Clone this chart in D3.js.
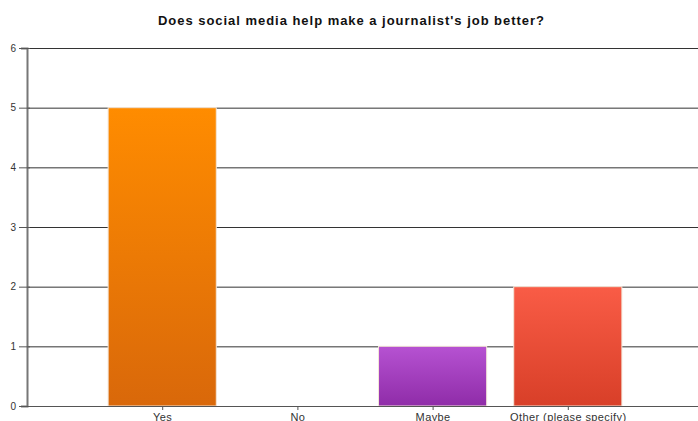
<!DOCTYPE html>
<html>
<head>
<meta charset="utf-8">
<script src="https://cdn.jsdelivr.net/npm/d3@7"></script>
<style>
  html, body { margin: 0; padding: 0; background: #fff; }
  svg { display: block; font-family: "Liberation Sans", Arial, sans-serif; }
</style>
</head>
<body>
<svg id="chart" width="698" height="421"></svg>
<script>
// Survey answers and response counts
const categories = ["Yes", "No", "Maybe", "Other (please specify)"];
const counts = [5, 0, 1, 2];
const yTicks = [0, 1, 2, 3, 4, 5, 6];
const barTop = ["#ff8c00", "#ff8c00", "#b652d2", "#f95c46"];
const barBottom = ["#d9680a", "#d9680a", "#8f2ca8", "#d83f28"];
const title = "Does social media help make a journalist's job better?";

const W = 698, H = 421;
const plotLeft = 27, plotTop = 48, plotBottom = 406;

const svg = d3.select("#chart");

const x = d3.scalePoint().domain(categories).range([plotLeft, 703]).padding(1);
const y = d3.scaleLinear().domain([0, 6]).range([plotBottom, plotTop]);
const barW = x.step() * 0.8;

// vertical gradients for bars
const defs = svg.append("defs");
categories.forEach((c, i) => {
  const g = defs.append("linearGradient")
    .attr("id", "grad" + i).attr("x1", 0).attr("y1", 0).attr("x2", 0).attr("y2", 1);
  g.append("stop").attr("offset", "0%").attr("stop-color", barTop[i]);
  g.append("stop").attr("offset", "100%").attr("stop-color", barBottom[i]);
});

// title
svg.append("text")
  .attr("x", 351).attr("y", 25)
  .attr("text-anchor", "middle")
  .attr("font-size", 13).attr("font-weight", "bold").attr("fill", "#111")
  .attr("textLength", 386).attr("lengthAdjust", "spacing")
  .text(title);

// horizontal gridlines
svg.append("g").selectAll("line")
  .data(yTicks.filter(d => d > 0))
  .join("line")
  .attr("x1", plotLeft).attr("x2", W)
  .attr("y1", d => y(d) + 0.5).attr("y2", d => y(d) + 0.5)
  .attr("stroke", "#333").attr("stroke-width", 1);

// bars
svg.append("g").selectAll("rect")
  .data(categories.map((c, i) => ({ c, v: counts[i], i })).filter(d => d.v > 0))
  .join("rect")
  .attr("x", d => x(d.c) - barW / 2)
  .attr("width", barW)
  .attr("y", d => y(d.v))
  .attr("height", d => y(0) - y(d.v))
  .attr("fill", d => `url(#grad${d.i})`)
  .attr("stroke", "#f3e6d8").attr("stroke-width", 1);

// y axis
const yAxis = svg.append("g")
  .attr("transform", `translate(${plotLeft},0)`)
  .call(d3.axisLeft(y).tickValues(yTicks).tickFormat(d3.format("d")).tickSize(6).tickPadding(3));
yAxis.select(".domain").attr("stroke", "#777").attr("stroke-width", 2);
yAxis.selectAll(".tick line").attr("stroke", "#555").attr("x2", -8).attr("x1", 3);
yAxis.selectAll("text").attr("font-size", 10).attr("fill", "#333").attr("x", -11)
  .attr("font-family", "'Liberation Sans', Arial, sans-serif");

// x axis
const xAxis = svg.append("g")
  .attr("transform", `translate(0,${plotBottom})`)
  .call(d3.axisBottom(x).tickSize(4).tickPadding(3).tickSizeOuter(0));
xAxis.select(".domain").attr("d", `M${plotLeft},0.5H${W}`).attr("stroke", "#555").attr("stroke-width", 1);
xAxis.selectAll(".tick line").attr("stroke", "#555");
xAxis.selectAll("text").attr("font-size", 11).attr("fill", "#333")
  .attr("letter-spacing", 0.4)
  .attr("font-family", "'Liberation Sans', Arial, sans-serif");
</script>
</body>
</html>
